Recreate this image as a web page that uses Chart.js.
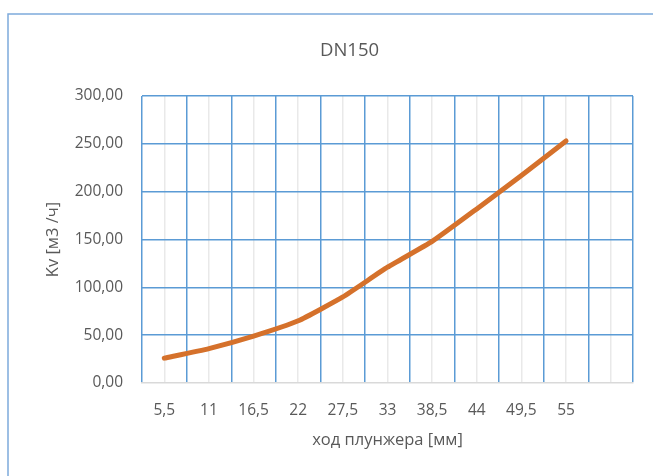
<!DOCTYPE html>
<html>
<head>
<meta charset="utf-8">
<script src="https://cdn.jsdelivr.net/npm/chart.js@4/dist/chart.umd.min.js"></script>
<style>
  html, body { margin: 0; padding: 0; background: #ffffff; }
  #wrap { width: 653px; height: 476px; position: relative; }
</style>
</head>
<body>
<div id="wrap"><canvas id="c" width="653" height="476"></canvas></div>
<script>
// Plunger stroke positions (mm) – the last slot is an empty category
const strokeLabels = ['5,5', '11', '16,5', '22', '27,5', '33', '38,5', '44', '49,5', '55', ''];
// Flow coefficient Kv, m3/h
const kvValues = [26, 36, 49, 65, 90, 121, 148, 182, 217, 253];
// Value axis ticks
const kvTicks = [0, 50, 100, 150, 200, 250, 300];

const FONT = '"Open Sans", "Noto Sans", sans-serif';
const TEXT = '#595959';
const BLUE = '#5b9bd5';

// Frame around the whole chart object
const frame = {
  id: 'frame',
  beforeDraw(chart) {
    const ctx = chart.ctx;
    ctx.save();
    ctx.fillStyle = '#ffffff';
    ctx.fillRect(0, 0, chart.width, chart.height);
    ctx.strokeStyle = '#7eaadc';
    ctx.lineWidth = 1.5;
    ctx.strokeRect(8, 14, 720, 520);
    ctx.restore();
  }
};

new Chart(document.getElementById('c'), {
  type: 'line',
  data: {
    labels: strokeLabels,
    datasets: [{
      label: 'Kv',
      data: kvValues,
      borderColor: '#d5712b',
      borderWidth: 5,
      borderCapStyle: 'round',
      borderJoinStyle: 'round',
      pointRadius: 0,
      tension: 0.15,
      fill: false
    }]
  },
  options: {
    responsive: false,
    animation: false,
    layout: { padding: { left: 66, right: 20, top: 0, bottom: 26 } },
    plugins: {
      legend: { display: false },
      tooltip: { enabled: false },
      title: {
        display: true,
        text: 'DN150',
        color: TEXT,
        font: { family: FONT, size: 18.5, weight: 'normal' },
        padding: { top: 40, bottom: 33.8 }
      }
    },
    scales: {
      x: {
        type: 'category',
        position: 'bottom',
        offset: true,
        grid: { display: true, offset: true, color: BLUE, lineWidth: 1.5, drawTicks: false },
        border: { display: true, color: '#d9d9d9', width: 1.5, z: 1 },
        ticks: { color: TEXT, font: { family: FONT, size: 15.5 }, padding: 18, maxRotation: 0, autoSkip: false },
        title: {
          display: true,
          text: 'ход плунжера [мм]',
          color: TEXT,
          font: { family: FONT, size: 16.5 },
          padding: { top: 0, bottom: 0 }
        },
        afterFit(scale) { scale.height = 67; }
      },
      x2: {
        type: 'category',
        position: 'top',
        offset: true,
        grid: { display: true, offset: false, color: '#e9e9e9', lineWidth: 1.5, drawTicks: false },
        border: { display: false },
        ticks: { display: false },
        afterFit(scale) { scale.height = 0; }
      },
      y: {
        min: 0,
        max: 300,
        afterBuildTicks(scale) { scale.ticks = kvTicks.map(v => ({ value: v })); },
        grid: {
          color: ctx => (ctx.tick && ctx.tick.value === 0) ? 'rgba(0,0,0,0)' : BLUE,
          lineWidth: 1.5,
          drawTicks: false
        },
        border: { display: false },
        ticks: {
          color: TEXT,
          font: { family: FONT, size: 15.5 },
          padding: 19,
          callback: v => v.toFixed(2).replace('.', ',')
        },
        title: {
          display: true,
          text: 'Kv [м3 /ч]',
          color: TEXT,
          font: { family: FONT, size: 16.5 },
          padding: { top: -23, bottom: 0 }
        },
        afterFit(scale) { scale.width = 76; }
      }
    }
  },
  plugins: [frame]
});
</script>
</body>
</html>
